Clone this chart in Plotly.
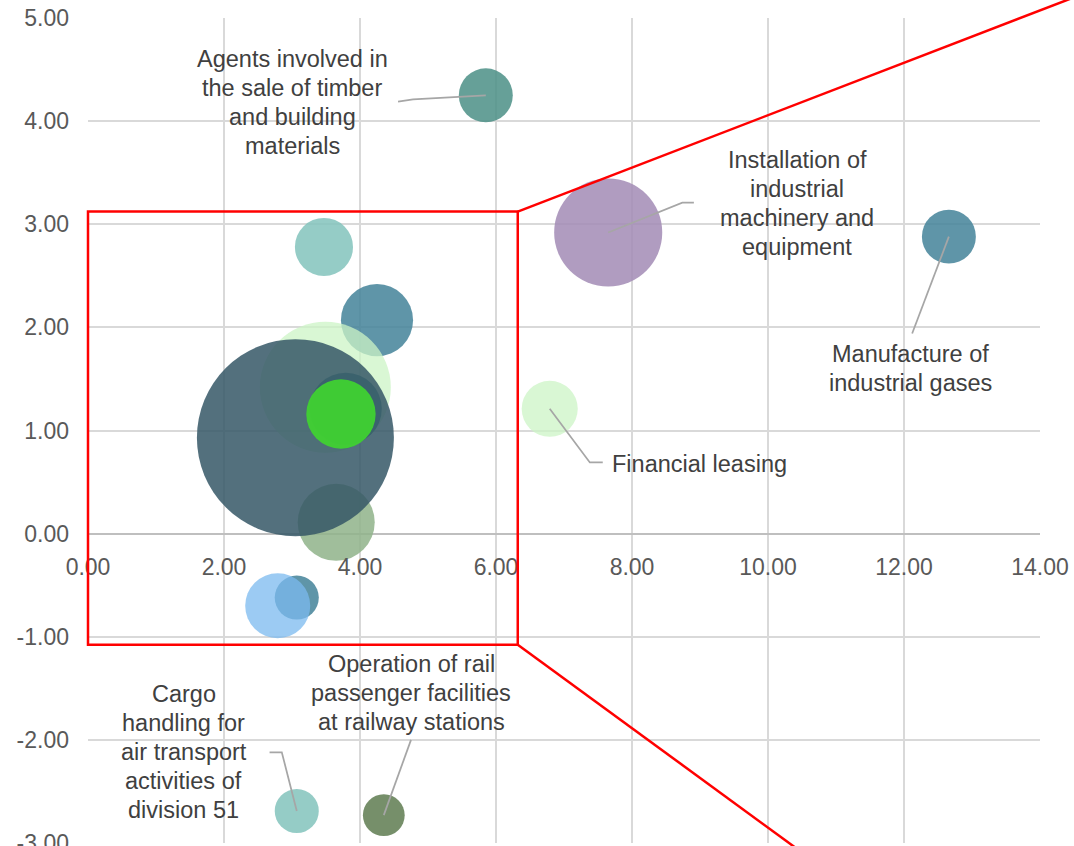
import plotly.graph_objects as go

# Bubble data: x, y position and bubble size (area-proportional)
x_vals = [4.25, 3.47, 3.49, 3.65, 3.79, 3.05, 3.72, 3.07, 2.79,
          5.85, 7.65, 12.66, 6.79, 3.07, 4.35]
y_vals = [2.07, 2.78, 1.42, 0.11, 1.21, 0.93, 1.16, -0.62, -0.70,
          4.25, 2.92, 2.88, 1.21, -2.69, -2.73]
sizes = [13.4, 8.7, 44.2, 15.3, 13.4, 100.0, 12.4, 5.0, 10.9,
         7.5, 30.1, 7.5, 8.1, 5.0, 4.5]
colors = [
    "rgba(67,130,153,0.85)",   # steel blue
    "rgba(130,195,188,0.85)",  # light teal
    "rgba(204,244,198,0.75)",  # pale green
    "rgba(143,179,137,0.85)",  # sage
    "rgba(75,143,134,0.85)",   # teal
    "rgba(53,87,102,0.85)",    # slate
    "rgba(64,212,48,0.92)",    # bright green
    "rgba(67,130,153,0.85)",   # steel blue
    "rgba(123,186,239,0.75)",  # light blue
    "rgba(75,143,134,0.85)",   # teal
    "rgba(162,139,181,0.85)",  # lilac
    "rgba(67,130,153,0.85)",   # steel blue
    "rgba(204,244,198,0.75)",  # pale green
    "rgba(130,195,188,0.85)",  # light teal
    "rgba(94,123,80,0.85)",    # olive
]

# Labelled bubbles: index into the arrays above, label lines, label centre,
# and the leader line route (elbow, end) in data units
labels = [
    (9, ["Agents involved in", "the sale of timber", "and building", "materials"],
     (3.0, 4.18), "center", [(4.78, 4.21), (4.56, 4.19)]),
    (10, ["Installation of", "industrial", "machinery and", "equipment"],
     (10.43, 3.20), "center", [(8.74, 3.21), (8.91, 3.21)]),
    (11, ["Manufacture of", "industrial gases"],
     (12.1, 1.60), "center", [(12.12, 1.94)]),
    (12, ["Financial leasing"],
     (7.68, 0.68), "left", [(7.38, 0.69), (7.57, 0.69)]),
    (13, ["Cargo", "handling for", "air transport", "activities of", "division 51"],
     (1.41, -2.12), "center", [(2.85, -2.12), (2.67, -2.12)]),
    (14, ["Operation of rail", "passenger facilities", "at railway stations"],
     (4.75, -1.55), "center", [(4.75, -2.0)]),
]

x_ticks = [0, 2, 4, 6, 8, 10, 12, 14]
y_ticks = [-3, -2, -1, 0, 1, 2, 3, 4, 5]
y_tick_text = ["-3.00", "-2.00", "-1.00", "0.00", "1.00", "2.00", "3.00", "4.00", "5.00"]

# Zoom box and the two guide rays that fan out from its right corners
zoom_box = dict(x0=0.0, x1=6.32, y0=-1.077, y1=3.123)
ray_top_end = (14.46, 5.19)
ray_bottom_end = (10.6, -3.14)

X_RANGE = (0, 14)
Y_RANGE = (-3, 5)
LINE_PX = 29  # spacing between label lines, in pixels


def px(x):
    return (x - X_RANGE[0]) / (X_RANGE[1] - X_RANGE[0])


def py(y):
    return (y - Y_RANGE[0]) / (Y_RANGE[1] - Y_RANGE[0])


MAX_DIAMETER = 197
fig = go.Figure()
fig.add_trace(go.Scatter(
    x=x_vals, y=y_vals, mode="markers",
    marker=dict(size=sizes, sizemode="area",
                sizeref=2 * max(sizes) / MAX_DIAMETER ** 2,
                color=colors, opacity=1, line=dict(width=0)),
    hoverinfo="x+y", showlegend=False,
))

label_font = dict(size=23.5, color="#404040", family="Liberation Sans, Arial")
shapes = []
annotations = []
for idx, lines, (tx, ty), anchor, route in labels:
    pts = [(x_vals[idx], y_vals[idx])] + route
    path = "M " + " L ".join(f"{a},{b}" for a, b in pts)
    shapes.append(dict(type="path", path=path, xref="x", yref="y",
                       line=dict(color="#a6a6a6", width=1.75), layer="above"))
    n = len(lines)
    for i, line in enumerate(lines):
        annotations.append(dict(
            x=tx, y=ty, xref="x", yref="y", text=line,
            yshift=((n - 1) / 2 - i) * LINE_PX,
            showarrow=False, xanchor=anchor, yanchor="middle",
            font=label_font))

red = dict(color="#ff0000", width=2.5)
shapes.append(dict(type="rect", xref="paper", yref="paper",
                   x0=px(zoom_box["x0"]), x1=px(zoom_box["x1"]),
                   y0=py(zoom_box["y0"]), y1=py(zoom_box["y1"]),
                   line=red, layer="above"))
shapes.append(dict(type="line", xref="paper", yref="paper",
                   x0=px(zoom_box["x1"]), y0=py(zoom_box["y1"]),
                   x1=px(ray_top_end[0]), y1=py(ray_top_end[1]),
                   line=red, layer="above"))
shapes.append(dict(type="line", xref="paper", yref="paper",
                   x0=px(zoom_box["x1"]), y0=py(zoom_box["y0"]),
                   x1=px(ray_bottom_end[0]), y1=py(ray_bottom_end[1]),
                   line=red, layer="above"))

tick_font = dict(size=23, color="#595959", family="Liberation Sans, Arial")
fig.update_layout(
    width=1074, height=846,
    margin=dict(l=88, r=34, t=18, b=3, autoexpand=False),
    paper_bgcolor="white", plot_bgcolor="white",
    shapes=shapes, annotations=annotations,
    xaxis=dict(range=list(X_RANGE), tickvals=x_ticks, tickformat=".2f",
               showgrid=True, gridcolor="#d9d9d9", gridwidth=1.5,
               zeroline=False, showline=False, ticks="",
               anchor="free", position=py(0), ticklabelstandoff=17,
               automargin=False, tickfont=tick_font),
    yaxis=dict(range=list(Y_RANGE), tickvals=y_ticks, ticktext=y_tick_text,
               showgrid=True, gridcolor="#d9d9d9", gridwidth=1.5,
               zeroline=True, zerolinecolor="#bfbfbf", zerolinewidth=1.5,
               showline=False, ticks="", ticklabelstandoff=18,
               ticklabeloverflow="allow", automargin=False,
               tickfont=tick_font),
)

fig.write_html("out.html")
